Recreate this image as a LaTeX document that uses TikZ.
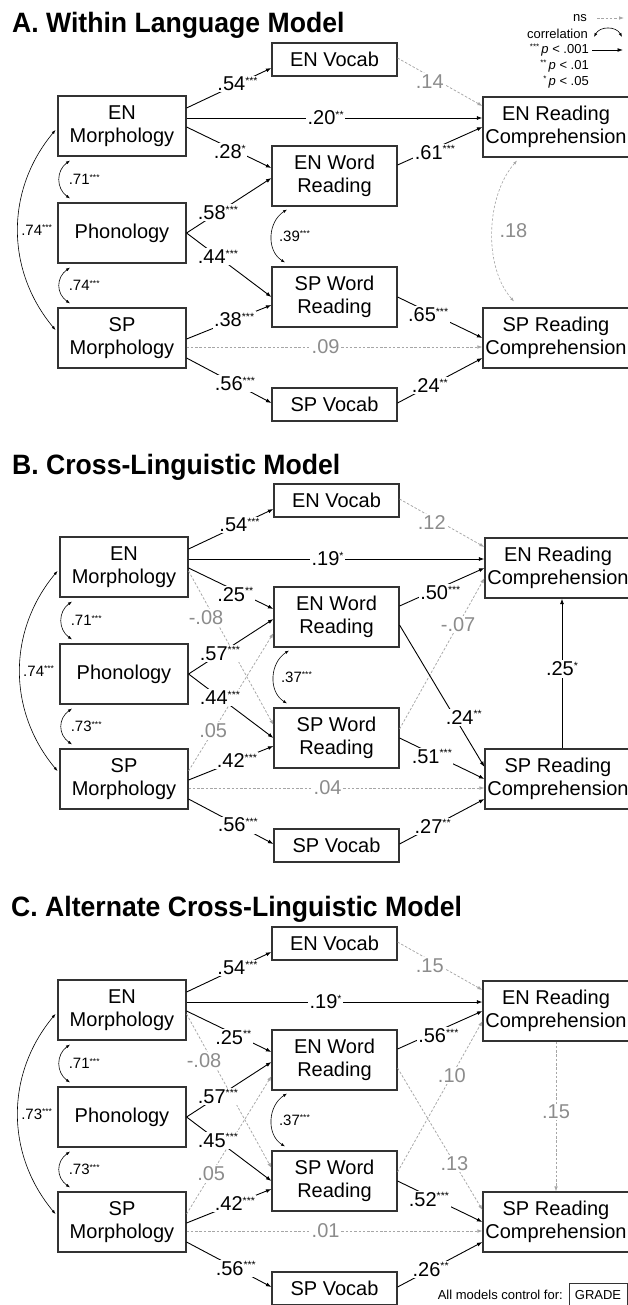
\documentclass[tikz,border=0pt]{standalone}
\usepackage{fontspec}
\setmainfont{Liberation Sans}
\newfontfamily\titlefont[FakeStretch=0.95]{Liberation Sans}
\usetikzlibrary{arrows.meta}

% significance stars for path labels, correlation labels and the legend
\newcommand{\starsE}[1]{\raisebox{6.5pt}{\fontsize{10.5}{10}\selectfont#1}}
\newcommand{\starsC}[1]{\raisebox{4.6pt}{\fontsize{8.5}{8}\selectfont#1}}
\newcommand{\starsL}[1]{\raisebox{4pt}{\fontsize{8}{8}\selectfont#1}}

\tikzset{
  varbox/.style={draw=black!80, line width=1.1pt, fill=white, align=center,
    font=\fontsize{20}{23.5}\selectfont, inner sep=0pt},
  leftbox/.style={varbox, minimum width=128pt, minimum height=60pt},
  midbox/.style={varbox, minimum width=125pt, minimum height=60pt},
  vocbox/.style={varbox, minimum width=125pt, minimum height=33pt},
  rcbox/.style={varbox, minimum width=146pt, minimum height=60pt},
  sig/.style={line width=0.9pt, -{Latex[length=5.5pt,width=4pt]}},
  nsig/.style={draw=black!35, line width=0.75pt, dash pattern=on 2.5pt off 1.8pt,
    -{Latex[length=5pt,width=3.6pt]}},
  corr/.style={line width=0.6pt, {Latex[length=4pt,width=3pt]}-{Latex[length=4pt,width=3pt]}},
  ncorr/.style={corr, draw=black!35, dash pattern=on 2.5pt off 1.8pt},
  elab/.style={fill=white, inner sep=1.5pt, font=\fontsize{20}{20}\selectfont},
  glab/.style={elab, text=black!45},
  clab/.style={font=\fontsize{15}{15}\selectfont, inner sep=0pt, anchor=west},
  gclab/.style={font=\fontsize{20}{20}\selectfont, inner sep=0pt, anchor=west, text=black!45},
  paneltitle/.style={anchor=base west, inner sep=0pt, font=\titlefont\bfseries\fontsize{28}{28}\selectfont},
  legtext/.style={anchor=east, inner sep=0pt, font=\fontsize{13}{13}\selectfont},
}

% the nine measures of one path model; #1 is the name prefix
\newcommand{\panelboxes}[1]{%
  \node[leftbox] (#1enm)  at (122,-126)   {EN\\Morphology};
  \node[leftbox] (#1phon) at (122,-233)   {Phonology};
  \node[leftbox] (#1spm)  at (122,-338)   {SP\\Morphology};
  \node[vocbox]  (#1env)  at (334.5,-59.5) {EN Vocab};
  \node[midbox]  (#1enwr) at (334.5,-176) {EN Word\\Reading};
  \node[midbox]  (#1spwr) at (334.5,-297) {SP Word\\Reading};
  \node[vocbox]  (#1spv)  at (334.5,-404.5) {SP Vocab};
  \node[rcbox]   (#1enrc) at (556,-127)   {EN Reading\\Comprehension};
  \node[rcbox]   (#1sprc) at (556,-338)   {SP Reading\\Comprehension};
}

\begin{document}
\begin{tikzpicture}[x=1pt,y=1pt]
\fill[white] (0,0) rectangle (627,-1305);
\useasboundingbox (0,0) rectangle (627,-1305);

% ---------------- A. Within Language Model ----------------
\node[paneltitle] (ta) at (12,-33) {A. Within Language Model};

\node[legtext] (lns) at (587,-18) {ns};
\coordinate (lns1) at (597,-18); \coordinate (lns2) at (624,-18);
\draw[nsig] (lns1) -- (lns2);
\node[legtext] (lcor) at (588,-34) {correlation};
\coordinate (lc1) at (594,-37); \coordinate (lc2) at (622,-37);
\draw[corr] (lc1) .. controls +(6,11) and +(-6,11) .. (lc2);
\node[legtext] (lp3) at (589,-50) {\starsL{***}\,\textit{p} < .001};
\coordinate (ls1) at (592,-50); \coordinate (ls2) at (623,-50);
\draw[sig] (ls1) -- (ls2);
\node[legtext] (lp2) at (589,-66) {\starsL{**}\,\textit{p} < .01};
\node[legtext] (lp1) at (589,-82) {\starsL{*}\,\textit{p} < .05};

\begin{scope}
\panelboxes{a}
\draw[nsig] ([yshift=1.5pt]aenv.east) -- node[glab,pos=0.38,yshift=-5pt]{.14} ([yshift=21pt]aenrc.west);
\draw[nsig] ([yshift=-9pt]aspm.east) -- node[glab,pos=0.47]{.09} ([yshift=-9pt]asprc.west);
\draw[ncorr] ([xshift=-39pt,yshift=-3pt]aenrc.south) .. controls +(-31,-35) and +(-31,35) ..
  node[gclab,pos=0.5,xshift=7pt]{.18} ([xshift=-42pt,yshift=6pt]asprc.north);

\draw[sig] ([yshift=18pt]aenm.east) -- node[elab,pos=0.6]{.54\starsE{***}} ([yshift=-8.5pt]aenv.west);
\draw[sig] ([yshift=8pt]aenm.east) -- node[elab,pos=0.47]{.20\starsE{**}} ([yshift=9pt]aenrc.west);
\draw[sig] ([yshift=-1pt]aenm.east) -- node[elab,pos=0.51,yshift=-4pt]{.28\starsE{*}} ([yshift=8pt]aenwr.west);
\draw[sig] ([yshift=11pt]aenwr.east) -- node[elab,pos=0.44,yshift=-4pt]{.61\starsE{***}} (aenrc.west);
\draw[sig] (aphon.east) -- node[elab,pos=0.37]{.58\starsE{***}} ([yshift=-2pt]aenwr.west);
\draw[sig] (aphon.east) -- node[elab,pos=0.37]{.44\starsE{***}} (aspwr.west);
\draw[sig] ([yshift=-1pt]aspm.east) -- node[elab,pos=0.56]{.38\starsE{***}} ([yshift=-8pt]aspwr.west);
\draw[sig] ([yshift=-20pt]aspm.east) -- node[elab,pos=0.57]{.56\starsE{***}} ([yshift=1.5pt]aspv.west);
\draw[sig] ([yshift=1.5pt]aspv.east) -- node[elab,pos=0.38]{.24\starsE{**}} ([yshift=-20pt]asprc.west);
\draw[sig] (aspwr.east) -- node[elab,pos=0.36,yshift=-3pt]{.65\starsE{***}} (asprc.west);

\draw[corr] ([xshift=-52pt,yshift=-4pt]aenm.south) .. controls +(-14,-10) and +(-14,10) ..
  node[clab,pos=0.5,xshift=9pt]{.71\starsC{***}} ([xshift=-52pt,yshift=4pt]aphon.north);
\draw[corr] ([xshift=-52pt,yshift=-4pt]aphon.south) .. controls +(-14,-10) and +(-14,10) ..
  node[clab,pos=0.5,xshift=9pt]{.74\starsC{***}} ([xshift=-52pt,yshift=4pt]aspm.north);
\draw[corr] ([xshift=-2pt,yshift=-4pt]aenm.west) .. controls +(-50,-60) and +(-50,60) ..
  node[clab,pos=0.5,xshift=3pt]{.74\starsC{***}} ([xshift=-2pt,yshift=8pt]aspm.west);
\draw[corr] ([xshift=-47.5pt,yshift=-3pt]aenwr.south) .. controls +(-19,-12) and +(-19,12) ..
  node[clab,pos=0.5,xshift=7pt]{.39\starsC{***}} ([xshift=-49.5pt,yshift=4pt]aspwr.north);
\end{scope}

% ---------------- B. Cross-Linguistic Model ----------------
\node[paneltitle] (tb) at (12,-474) {B. Cross-Linguistic Model};

\begin{scope}[shift={(2,-441)}]
\panelboxes{b}
\draw[nsig] ([yshift=1.5pt]benv.east) -- node[glab,pos=0.38,yshift=-5pt]{.12} ([yshift=21pt]benrc.west);
\draw[nsig] ([yshift=-9pt]bspm.east) -- node[glab,pos=0.47]{.04} ([yshift=-9pt]bsprc.west);
\draw[nsig] ([yshift=-4pt]benm.east) -- node[glab,pos=0.3,xshift=-8pt]{-.08} ([yshift=13pt]bspwr.west);
\draw[nsig] ([yshift=8pt]bspm.east) -- node[glab,pos=0.29]{.05} ([yshift=-16pt]benwr.west);
\draw[nsig] ([yshift=9pt]bspwr.east) -- node[glab,pos=0.69]{-.07} ([yshift=-10pt]benrc.west);

\draw[sig] ([yshift=18pt]benm.east) -- node[elab,pos=0.6]{.54\starsE{***}} ([yshift=-8.5pt]benv.west);
\draw[sig] ([yshift=8pt]benm.east) -- node[elab,pos=0.47]{.19\starsE{*}} ([yshift=9pt]benrc.west);
\draw[sig] ([yshift=-1pt]benm.east) -- node[elab,pos=0.55,yshift=-4pt]{.25\starsE{**}} ([yshift=8pt]benwr.west);
\draw[sig] ([yshift=11pt]benwr.east) -- node[elab,pos=0.48,yshift=-5pt]{.50\starsE{***}} (benrc.west);
\draw[sig] (bphon.east) -- node[elab,pos=0.37]{.57\starsE{***}} ([yshift=-2pt]benwr.west);
\draw[sig] (bphon.east) -- node[elab,pos=0.37]{.44\starsE{***}} (bspwr.west);
\draw[sig] ([yshift=-1pt]bspm.east) -- node[elab,pos=0.57]{.42\starsE{***}} ([yshift=-8pt]bspwr.west);
\draw[sig] ([yshift=-20pt]bspm.east) -- node[elab,pos=0.58]{.56\starsE{***}} ([yshift=1.5pt]bspv.west);
\draw[sig] ([yshift=1.5pt]bspv.east) -- node[elab,pos=0.39]{.27\starsE{**}} ([yshift=-20pt]bsprc.west);
\draw[sig] (bspwr.east) -- node[elab,pos=0.38,yshift=-3pt]{.51\starsE{***}} (bsprc.west);
\draw[sig] ([yshift=-8pt]benwr.east) -- node[elab,pos=0.65,xshift=9pt]{.24\starsE{**}} ([yshift=12pt]bsprc.west);
\draw[sig] ([xshift=4pt]bsprc.north) -- node[elab,pos=0.53]{.25\starsE{*}} ([xshift=4pt]benrc.south);

\draw[corr] ([xshift=-52pt,yshift=-4pt]benm.south) .. controls +(-14,-10) and +(-14,10) ..
  node[clab,pos=0.5,xshift=9pt]{.71\starsC{***}} ([xshift=-52pt,yshift=4pt]bphon.north);
\draw[corr] ([xshift=-52pt,yshift=-4pt]bphon.south) .. controls +(-14,-10) and +(-14,10) ..
  node[clab,pos=0.5,xshift=9pt]{.73\starsC{***}} ([xshift=-52pt,yshift=4pt]bspm.north);
\draw[corr] ([xshift=-2pt,yshift=-4pt]benm.west) .. controls +(-50,-60) and +(-50,60) ..
  node[clab,pos=0.5,xshift=3pt]{.74\starsC{***}} ([xshift=-2pt,yshift=8pt]bspm.west);
\draw[corr] ([xshift=-47.5pt,yshift=-3pt]benwr.south) .. controls +(-19,-12) and +(-19,12) ..
  node[clab,pos=0.5,xshift=7pt]{.37\starsC{***}} ([xshift=-49.5pt,yshift=4pt]bspwr.north);
\end{scope}

% ---------------- C. Alternate Cross-Linguistic Model ----------------
\node[paneltitle] (tc) at (11,-916) {C. Alternate Cross-Linguistic Model};

\begin{scope}[shift={(0,-884)}]
\panelboxes{c}
\draw[nsig] ([yshift=1.5pt]cenv.east) -- node[glab,pos=0.38,yshift=-5pt]{.15} ([yshift=21pt]cenrc.west);
\draw[nsig] ([yshift=-9pt]cspm.east) -- node[glab,pos=0.47]{.01} ([yshift=-9pt]csprc.west);
\draw[nsig] ([yshift=-4pt]cenm.east) -- node[glab,pos=0.3,xshift=-8pt]{-.08} ([yshift=13pt]cspwr.west);
\draw[nsig] ([yshift=8pt]cspm.east) -- node[glab,pos=0.29]{.05} ([yshift=-16pt]cenwr.west);
\draw[nsig] ([yshift=9pt]cspwr.east) -- node[glab,pos=0.64]{.10} ([yshift=-10pt]cenrc.west);
\draw[nsig] ([yshift=-8pt]cenwr.east) -- node[glab,pos=0.67]{.13} ([yshift=12pt]csprc.west);
\draw[nsig] (cenrc.south) -- node[glab,pos=0.47]{.15} (csprc.north);

\draw[sig] ([yshift=18pt]cenm.east) -- node[elab,pos=0.6]{.54\starsE{***}} ([yshift=-8.5pt]cenv.west);
\draw[sig] ([yshift=8pt]cenm.east) -- node[elab,pos=0.47]{.19\starsE{*}} ([yshift=9pt]cenrc.west);
\draw[sig] ([yshift=-1pt]cenm.east) -- node[elab,pos=0.55,yshift=-4pt]{.25\starsE{**}} ([yshift=8pt]cenwr.west);
\draw[sig] ([yshift=11pt]cenwr.east) -- node[elab,pos=0.48,yshift=-5pt]{.56\starsE{***}} (cenrc.west);
\draw[sig] (cphon.east) -- node[elab,pos=0.37]{.57\starsE{***}} ([yshift=-2pt]cenwr.west);
\draw[sig] (cphon.east) -- node[elab,pos=0.37]{.45\starsE{***}} (cspwr.west);
\draw[sig] ([yshift=-1pt]cspm.east) -- node[elab,pos=0.57]{.42\starsE{***}} ([yshift=-8pt]cspwr.west);
\draw[sig] ([yshift=-20pt]cspm.east) -- node[elab,pos=0.58]{.56\starsE{***}} ([yshift=1.5pt]cspv.west);
\draw[sig] ([yshift=1.5pt]cspv.east) -- node[elab,pos=0.39]{.26\starsE{**}} ([yshift=-20pt]csprc.west);
\draw[sig] (cspwr.east) -- node[elab,pos=0.37,yshift=-3pt]{.52\starsE{***}} (csprc.west);

\draw[corr] ([xshift=-52pt,yshift=-4pt]cenm.south) .. controls +(-14,-10) and +(-14,10) ..
  node[clab,pos=0.5,xshift=9pt]{.71\starsC{***}} ([xshift=-52pt,yshift=4pt]cphon.north);
\draw[corr] ([xshift=-52pt,yshift=-4pt]cphon.south) .. controls +(-14,-10) and +(-14,10) ..
  node[clab,pos=0.5,xshift=9pt]{.73\starsC{***}} ([xshift=-52pt,yshift=4pt]cspm.north);
\draw[corr] ([xshift=-2pt,yshift=-4pt]cenm.west) .. controls +(-50,-60) and +(-50,60) ..
  node[clab,pos=0.5,xshift=3pt]{.73\starsC{***}} ([xshift=-2pt,yshift=8pt]cspm.west);
\draw[corr] ([xshift=-47.5pt,yshift=-3pt]cenwr.south) .. controls +(-19,-12) and +(-19,12) ..
  node[clab,pos=0.5,xshift=7pt]{.37\starsC{***}} ([xshift=-49.5pt,yshift=4pt]cspwr.north);
\end{scope}

% covariate note
\node[legtext] (ctl) at (563,-1295) {All models control for:};
\node[draw=black!80, line width=0.8pt, minimum width=58pt, minimum height=24pt, inner sep=0pt,
  font=\fontsize{13}{13}\selectfont] (grade) at (598,-1295) {GRADE};
\end{tikzpicture}
\end{document}
